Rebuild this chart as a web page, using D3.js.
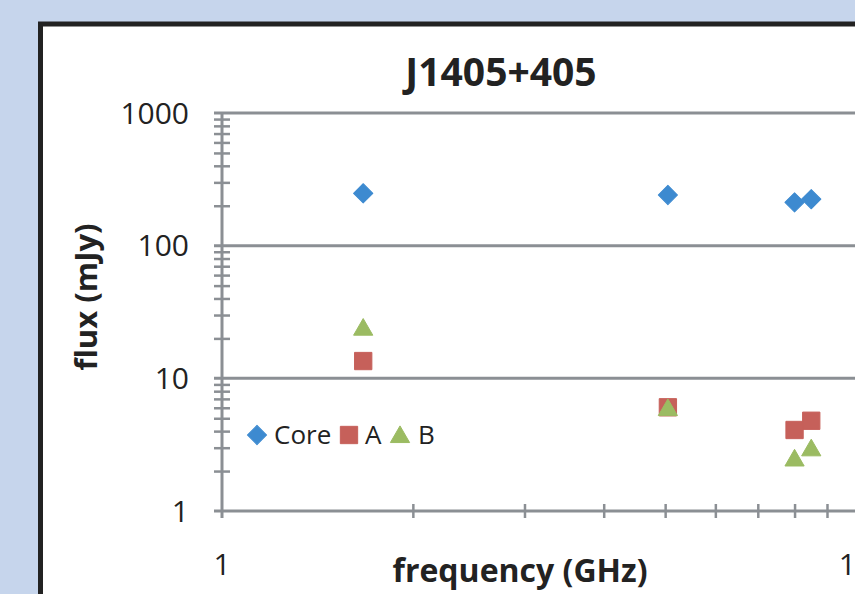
<!DOCTYPE html>
<html>
<head>
<meta charset="utf-8">
<script src="https://cdn.jsdelivr.net/npm/d3@7"></script>
<style>
  html, body { margin: 0; padding: 0; background: #c6d5ec; }
  svg { display: block; font-family: "Open Sans", sans-serif; }
</style>
</head>
<body>
<svg id="chart"></svg>
<script>
// data (frequency in GHz, flux in mJy)
const freqCore = [1.67, 5.05, 8.0, 8.5];
const fluxCore = [248, 241, 212, 224];
const freqA = [1.67, 5.05, 8.0, 8.5];
const fluxA = [13.5, 6.05, 4.08, 4.79];
const freqB = [1.67, 5.05, 8.0, 8.5];
const fluxB = [24.1, 5.97, 2.49, 2.97];
const yTicks = [1, 10, 100, 1000];
const xTicks = [1, 10];
const seriesNames = ["Core", "A", "B"];

const W = 855, H = 594;
const svg = d3.select("#chart").attr("width", W).attr("height", H);

// chart frame
svg.append("rect")
    .attr("x", 40.5).attr("y", 24)
    .attr("width", W).attr("height", H)
    .attr("fill", "#fff")
    .attr("stroke", "#222")
    .attr("stroke-width", 5);

const x = d3.scaleLog().domain([1, 10]).range([222, 856]);
const y = d3.scaleLog().domain([1, 1000]).range([511, 113]);
const axisColor = "#8b8f94";

// minor values for tick marks
const yMinor = [];
for (let d = 1; d < 1000; d *= 10) {
    for (let k = 2; k <= 9; k++) yMinor.push(d * k);
}
const xMinor = [2, 3, 4, 5, 6, 7, 8, 9];

const g = svg.append("g");

// horizontal gridlines
g.selectAll(".grid")
    .data(yTicks.filter(d => d > 1))
    .enter().append("line")
    .attr("x1", x(1) - 8).attr("x2", W)
    .attr("y1", d => y(d)).attr("y2", d => y(d))
    .attr("stroke", axisColor).attr("stroke-width", 3);

// y axis, ticks cross the line
g.append("g")
    .attr("transform", "translate(" + x(1) + ",0)")
    .call(d3.axisLeft(y).tickValues(yMinor).tickSize(8).tickFormat(""))
    .call(s => s.select(".domain").remove())
    .call(s => s.selectAll(".tick line").attr("x1", 8).attr("x2", -8).attr("stroke", axisColor).attr("stroke-width", 2.5));
g.append("line")
    .attr("x1", x(1)).attr("x2", x(1))
    .attr("y1", y(1000)).attr("y2", y(1) + 7)
    .attr("stroke", axisColor).attr("stroke-width", 3);

// x axis, ticks cross the line
g.append("g")
    .attr("transform", "translate(0," + y(1) + ")")
    .call(d3.axisBottom(x).tickValues(xMinor).tickSize(7).tickFormat(""))
    .call(s => s.select(".domain").remove())
    .call(s => s.selectAll(".tick line").attr("y1", -7).attr("y2", 7).attr("stroke", axisColor).attr("stroke-width", 2.5));
g.append("line")
    .attr("x1", x(1) - 8).attr("x2", W)
    .attr("y1", y(1)).attr("y2", y(1))
    .attr("stroke", axisColor).attr("stroke-width", 3);

// tick labels
g.selectAll(".ylab")
    .data(yTicks)
    .enter().append("text")
    .attr("x", 189).attr("y", d => y(d))
    .attr("dy", "0.36em")
    .attr("text-anchor", "end")
    .attr("font-size", 30)
    .attr("fill", "#222")
    .text(d => d);

g.selectAll(".xlab")
    .data(xTicks)
    .enter().append("text")
    .attr("x", d => x(d)).attr("y", 575)
    .attr("text-anchor", "middle")
    .attr("font-size", 30)
    .attr("fill", "#222")
    .text(d => d);

// titles
svg.append("text")
    .attr("x", 501).attr("y", 86)
    .attr("text-anchor", "middle")
    .attr("font-size", 39).attr("font-weight", "bold")
    .attr("fill", "#222")
    .text("J1405+405");

svg.append("text")
    .attr("x", 520).attr("y", 582)
    .attr("text-anchor", "middle")
    .attr("font-size", 32).attr("font-weight", "bold")
    .attr("fill", "#222")
    .text("frequency (GHz)");

svg.append("text")
    .attr("transform", "translate(97,297) rotate(-90)")
    .attr("text-anchor", "middle")
    .attr("font-size", 31).attr("font-weight", "bold")
    .attr("fill", "#222")
    .text("flux (mJy)");

// markers
const colors = { Core: "#3d8ad0", A: "#c6605a", B: "#9bbb62" };
const diamond = d3.symbol().type(d3.symbolSquare).size(185);
const square = d3.symbol().type(d3.symbolSquare).size(300);
const triangle = d3.symbol().type(d3.symbolTriangle).size(160);

function plot(fx, fy, sym, color, rot, dy) {
    g.append("g").selectAll("path")
        .data(fx.map((f, i) => [f, fy[i]]))
        .enter().append("path")
        .attr("d", sym())
        .attr("transform", d => "translate(" + x(d[0]) + "," + (y(d[1]) + dy) + ") rotate(" + rot + ")")
        .attr("fill", color)
        .attr("stroke", color).attr("stroke-width", 1).attr("stroke-linejoin", "round");
}
plot(freqCore, fluxCore, diamond, colors.Core, 45, 0);
plot(freqA, fluxA, square, colors.A, 0, 0);
plot(freqB, fluxB, triangle, colors.B, 0, 2);

// legend
const legendItems = [
    { name: seriesNames[0], sym: diamond, rot: 45, mx: 257, tx: 274 },
    { name: seriesNames[1], sym: square, rot: 0, mx: 349, tx: 365 },
    { name: seriesNames[2], sym: triangle, rot: 0, mx: 400, tx: 418 }
];
const leg = svg.append("g");
legendItems.forEach(it => {
    leg.append("path")
        .attr("d", it.sym())
        .attr("transform", "translate(" + it.mx + "," + (435 + (it.name === "B" ? 2 : 0)) + ") rotate(" + it.rot + ")")
        .attr("fill", colors[it.name])
        .attr("stroke", colors[it.name]).attr("stroke-linejoin", "round");
    leg.append("text")
        .attr("x", it.tx).attr("y", 435)
        .attr("dy", "0.36em")
        .attr("font-size", 26)
        .attr("fill", "#222")
        .text(it.name);
});
</script>
</body>
</html>
